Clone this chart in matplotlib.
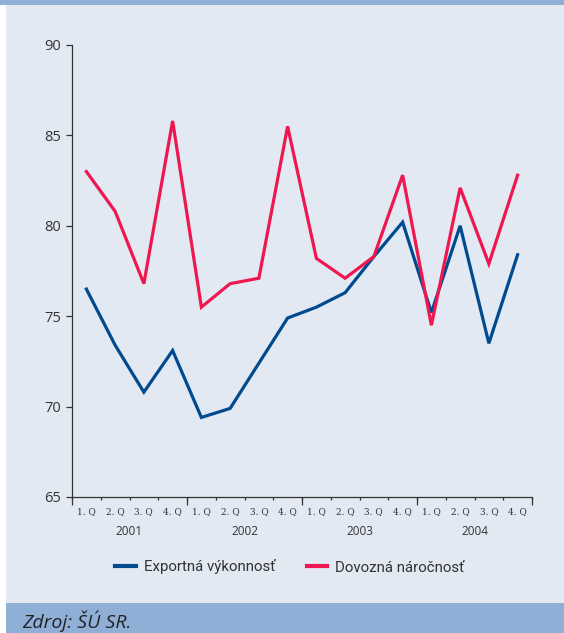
import numpy as np
import matplotlib.pyplot as plt
from matplotlib.patches import Rectangle

##------------------------------##
##            DATA              ##
##------------------------------##
kvartaly = ["1. Q", "2. Q", "3. Q", "4. Q"] * 4
roky = ["2001", "2002", "2003", "2004"]
export_vykonnost = [76.5, 73.4, 70.8, 73.1, 69.4, 69.9, 72.4, 74.9,
                    75.5, 76.3, 78.3, 80.2, 75.2, 80.0, 73.5, 78.4]
dovoz_narocnost = [83.0, 80.8, 76.8, 85.8, 75.5, 76.8, 77.1, 85.5,
                   78.2, 77.1, 78.3, 82.8, 74.5, 82.1, 77.9, 82.8]

modra = "#004a8f"
cervena = "#ee1750"
pozadie = "#e2e9f3"
pas = "#8fafd7"
sivo = "#333333"

fig = plt.figure(figsize=(5.64, 6.33), dpi=100)
fig.patch.set_facecolor("white")

# panel + horne/dolne pasy
fig.add_artist(Rectangle((6/564, 30/633), 1 - 6/564, 598/633, transform=fig.transFigure,
                         facecolor=pozadie, edgecolor="none", zorder=0))
fig.add_artist(Rectangle((0, 628/633), 1, 5/633, transform=fig.transFigure,
                         facecolor=pas, edgecolor="none", zorder=0))
fig.add_artist(Rectangle((6/564, 0), 1 - 6/564, 30/633, transform=fig.transFigure,
                         facecolor=pas, edgecolor="none", zorder=0))
fig.text(22/564, 12/633, "Zdroj: ŠÚ SR.", fontsize=14, style="italic",
         color="#222222", va="center", ha="left", family="Open Sans")

ax = fig.add_axes([72/564, 1 - 497/633, 460/564, 452/633])
ax.set_facecolor("none")

x = np.arange(len(export_vykonnost)) + 0.5
ax.plot(x, export_vykonnost, color=modra, lw=2.3, solid_joinstyle="miter",
        label="Exportná výkonnosť")
ax.plot(x, dovoz_narocnost, color=cervena, lw=2.3, solid_joinstyle="miter",
        label="Dovozná náročnosť")

ax.set_xlim(0, 16)
ax.set_ylim(65, 90)
ax.set_yticks([65, 70, 75, 80, 85, 90])
for s in ["top", "right"]:
    ax.spines[s].set_visible(False)
for s in ["left", "bottom"]:
    ax.spines[s].set_color(sivo)
    ax.spines[s].set_linewidth(0.9)

ax.tick_params(axis="y", length=4, width=0.9, color=sivo, labelsize=10.5,
               labelcolor=sivo, pad=4)
for t in ax.get_yticklabels():
    t.set_family("Open Sans")

# kvartaly
ax.set_xticks(x)
ax.set_xticklabels(kvartaly, family="DejaVu Serif", fontsize=6.5, color=sivo)
ax.tick_params(axis="x", which="major", length=0, pad=7)
ax.set_xticks(np.arange(0, 17), minor=True)
ax.tick_params(axis="x", which="minor", length=2.5, width=0.9, color=sivo)

# roky
sec = ax.secondary_xaxis("bottom")
sec.set_xticks(np.arange(0, 17, 4))
sec.set_xticklabels([])
sec.tick_params(length=5.5, width=0.9, color=sivo)
sec.spines["bottom"].set_visible(False)
sec2 = ax.secondary_xaxis("bottom")
sec2.set_xticks(np.arange(2, 16, 4))
sec2.set_xticklabels(roky, fontsize=8.5, color=sivo, family="Open Sans")
sec2.tick_params(length=0, pad=20)
sec2.spines["bottom"].set_visible(False)

leg = fig.legend(loc="center", bbox_to_anchor=(290/564, 1 - 567/633), ncol=2,
                 frameon=False, handlelength=1.35, handletextpad=0.55,
                 columnspacing=2.1, prop={"family": "Roboto", "size": 10.8})
for t in leg.get_texts():
    t.set_color(sivo)
for l in leg.get_lines():
    l.set_linewidth(3)

plt.savefig("out.png", dpi=100, facecolor=fig.get_facecolor())
